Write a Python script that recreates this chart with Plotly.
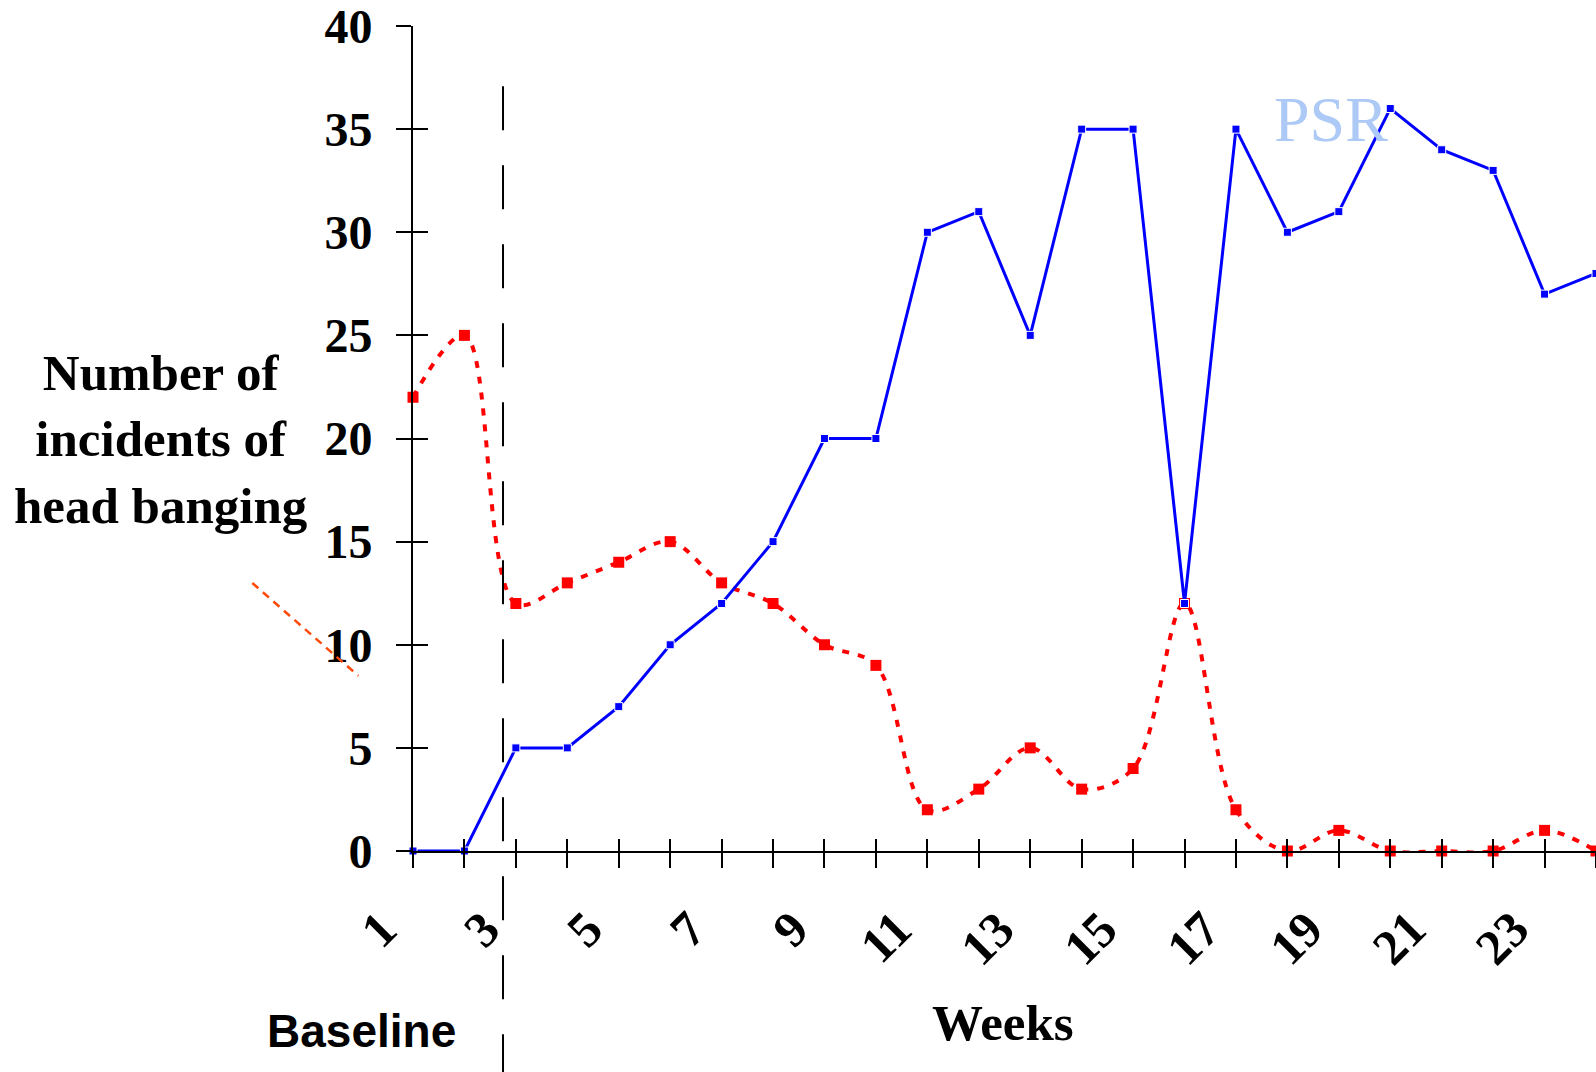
import plotly.graph_objects as go

weeks = list(range(1, 25))
psr = [0, 0, 5, 5, 7, 10, 12, 15, 20, 20, 30, 31, 25, 35, 35, 12, 35, 30, 31, 36, 34, 33, 27, 28]
head_banging = [22, 25, 12, 13, 14, 15, 13, 12, 10, 9, 2, 3, 5, 3, 4, 12, 2, 0, 1, 0, 0, 0, 1, 0]
label_weeks = [w for w in weeks if w % 2 == 1]
tick_labels = [str(w) for w in label_weeks]
y_ticks = [0, 5, 10, 15, 20, 25, 30, 35, 40]
phase_change = 2.75  # end of baseline

serif = "Liberation Serif"

fig = go.Figure()

fig.add_trace(go.Scatter(
    x=weeks, y=head_banging, mode="lines+markers",
    line=dict(color="#ff0000", width=4, dash="7px,9px", shape="spline", smoothing=1.0),
    marker=dict(symbol="square", size=11, color="#ff0000"),
    cliponaxis=False, showlegend=False,
))
fig.add_trace(go.Scatter(
    x=weeks, y=psr, mode="lines+markers",
    line=dict(color="#0000ff", width=3),
    marker=dict(symbol="square", size=8, color="#0000ff", line=dict(color="white", width=1)),
    cliponaxis=False, showlegend=False,
))
# empty trace so the overlay axes (inner half of the crossing ticks) get drawn
fig.add_trace(go.Scatter(x=[], y=[], xaxis="x2", yaxis="y2", showlegend=False))

axis_font = dict(family=serif, size=48, color="black", weight="bold")

fig.update_layout(
    width=1596, height=1072,
    margin=dict(l=413, r=0, t=24, b=221),
    plot_bgcolor="white", paper_bgcolor="white",
    xaxis=dict(
        range=[1, 24], tickvals=weeks, showticklabels=False,
        ticks="outside", ticklen=15, tickwidth=2, tickcolor="black",
        showline=True, linecolor="black", linewidth=2, showgrid=False, zeroline=False,
    ),
    yaxis=dict(
        range=[0, 40], tickvals=y_ticks,
        ticks="outside", ticklen=15, tickwidth=2, tickcolor="black",
        showline=True, linecolor="black", linewidth=2, showgrid=False, zeroline=False,
        tickfont=axis_font, ticklabelstandoff=14, ticklabeloverflow="allow",
    ),
    xaxis2=dict(
        range=[1, 24], tickvals=weeks, overlaying="x", anchor="y2",
        ticks="inside", ticklen=12, tickwidth=2, tickcolor="black",
        showticklabels=False, showgrid=False, zeroline=False, showline=False,
    ),
    yaxis2=dict(
        range=[0, 40], tickvals=y_ticks, overlaying="y", anchor="x2",
        ticks="inside", ticklen=15, tickwidth=2, tickcolor="black",
        showticklabels=False, showgrid=False, zeroline=False, showline=False,
    ),
)

# rotated week labels, sitting down-left of their tick
for w, t in zip(label_weeks, tick_labels):
    fig.add_annotation(text=t, x=w, xref="x", y=0, yref="paper",
                       xanchor="right", yanchor="top", xshift=-4, yshift=-48,
                       textangle=-45, borderpad=0, showarrow=False,
                       font=dict(family=serif, size=50, color="black", weight="bold"))

# phase-change line between baseline and PSR
fig.add_shape(type="line", xref="x", yref="paper",
              x0=phase_change, x1=phase_change, y0=0.927, y1=-0.3,
              line=dict(color="black", width=2, dash="44px,35px"))

# small orange pointer line next to the y labels
fig.add_shape(type="line", xref="paper", yref="paper",
              x0=-0.1358, y0=0.3248, x1=-0.0462, y1=0.2123,
              line=dict(color="#ff4a0a", width=2.5, dash="8px,6px"))

def label(text, x, y, font):
    fig.add_annotation(text=text, xref="paper", yref="paper", x=x, y=y,
                       xanchor="center", yanchor="middle", align="center",
                       showarrow=False, font=font)

label("Number of<br>incidents of<br>head banging", -0.2135, 0.499,
      dict(family=serif, size=51, color="black", weight="bold"))
label("Weeks", 0.4988, -0.2086, dict(family=serif, size=51, color="black", weight="bold"))
label("Baseline", -0.0437, -0.2183,
      dict(family="Liberation Sans", size=46, color="black", weight="bold"))
label("PSR", 0.776, 0.887, dict(family=serif, size=64, color="#adc9f5"))

fig.write_html("out.html", config={"displayModeBar": False},
               post_script="document.body.style.margin='0';")
